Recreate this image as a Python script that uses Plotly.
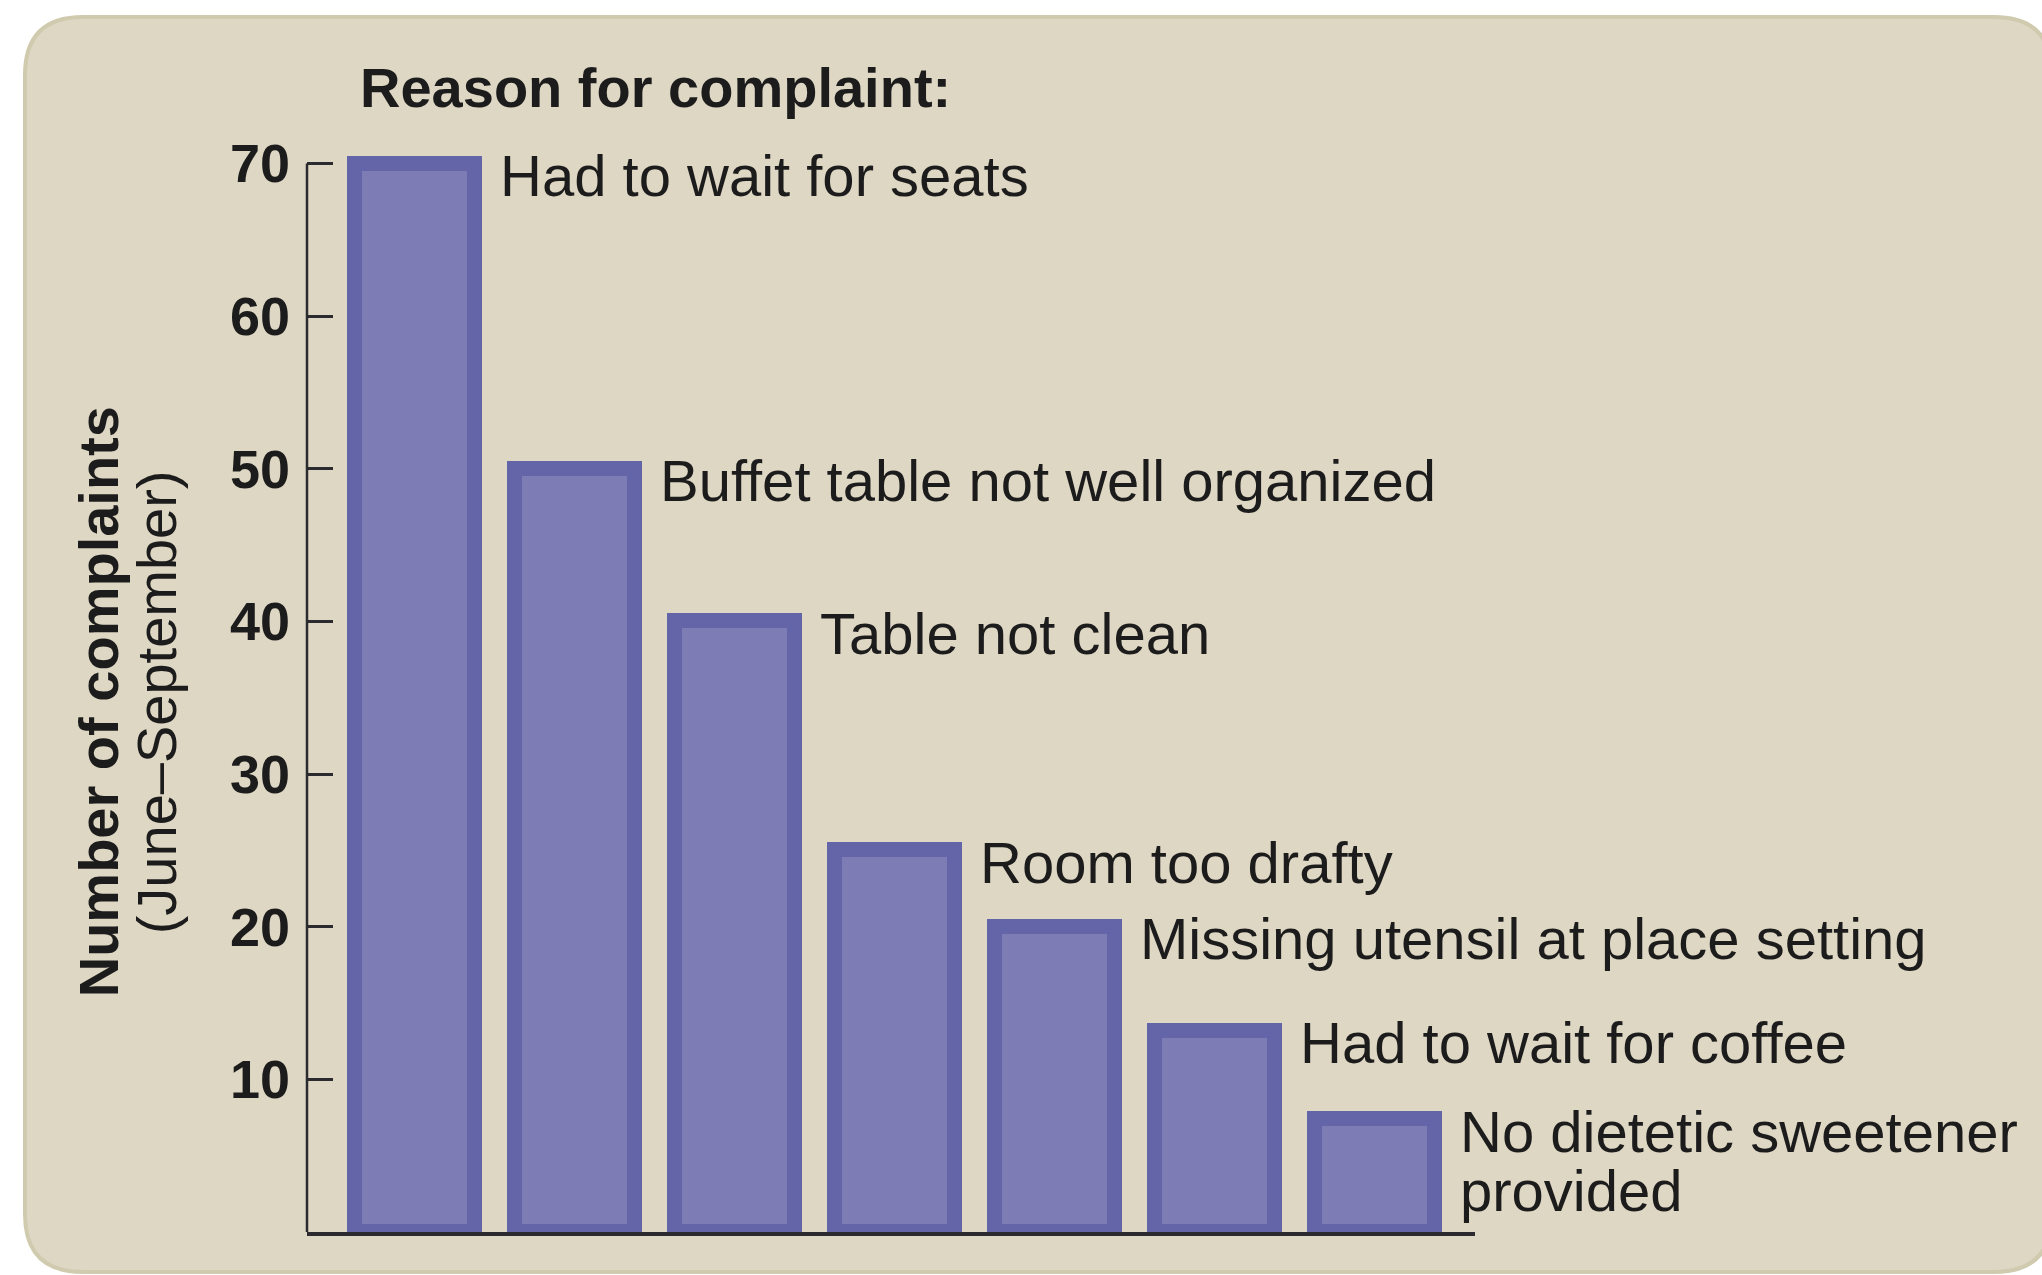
import plotly.graph_objects as go

# Complaint categories (Pareto order) and counts, June–September
reasons = [
    "Had to wait for seats",
    "Buffet table not well organized",
    "Table not clean",
    "Room too drafty",
    "Missing utensil at place setting",
    "Had to wait for coffee",
    "No dietetic sweetener<br>provided",
]
complaints = [70, 50, 40, 25, 20, 13.2, 7.4]
y_ticks = [10, 20, 30, 40, 50, 60, 70]

chart_title = "Reason for complaint:"
y_title_main = "Number of complaints"
y_title_sub = "(June–September)"

# Figure geometry (pixels)
W, H = 2042, 1275
M_L, M_R, M_T, M_B = 307, 567, 133, 43
PLOT_W = W - M_L - M_R
PLOT_H = H - M_T - M_B

FONT = "Liberation Sans, Arial, Helvetica, sans-serif"
TEXT = "#1d1c1c"
AXIS = "#2b2a2e"
PANEL = "#ded7c4"
PANEL_EDGE = "#d0caaf"
BAR_FILL = "#7e7cb5"
BAR_EDGE = "#6464a8"

BAR_W = 0.756      # bar width in category units
BAR_LINE = 15      # outline thickness in px
LABEL_SIZE = 58
LINE_GAP = 59      # spacing between wrapped label lines


def px_to_paper(px, py):
    return (px - M_L) / PLOT_W, (H - M_B - py) / PLOT_H


def rounded_rect(x0, y0, x1, y1, r):
    pts = []
    def p(x, y):
        a, b = px_to_paper(x, y)
        return f"{a:.5f},{b:.5f}"
    pts.append("M " + p(x0 + r, y0))
    pts.append("L " + p(x1 - r, y0))
    pts.append("Q " + p(x1, y0) + " " + p(x1, y0 + r))
    pts.append("L " + p(x1, y1 - r))
    pts.append("Q " + p(x1, y1) + " " + p(x1 - r, y1))
    pts.append("L " + p(x0 + r, y1))
    pts.append("Q " + p(x0, y1) + " " + p(x0, y1 - r))
    pts.append("L " + p(x0, y0 + r))
    pts.append("Q " + p(x0, y0) + " " + p(x0 + r, y0))
    return " ".join(pts) + " Z"


x_pos = list(range(len(reasons)))

fig = go.Figure(
    go.Bar(
        x=x_pos,
        y=complaints,
        width=BAR_W,
        marker=dict(color=BAR_FILL, line=dict(color=BAR_EDGE, width=BAR_LINE)),
        hoverinfo="skip",
    )
)

shapes = [
    # beige rounded card behind the chart
    dict(
        type="path",
        xref="paper",
        yref="paper",
        path=rounded_rect(25, 17, 2052, 1272, 58),
        fillcolor=PANEL,
        line=dict(color=PANEL_EDGE, width=4),
        layer="below",
    ),
    # vertical axis line, from 0 up to the top tick only
    dict(
        type="line",
        xref="paper",
        yref="y",
        x0=0,
        x1=0,
        y0=0,
        y1=max(y_ticks),
        line=dict(color=AXIS, width=2.5),
        layer="above",
    ),
]

annotations = []
# category labels to the right of each bar top
for i, (txt, val) in enumerate(zip(reasons, complaints)):
    for k, line in enumerate(txt.split("<br>")):
        annotations.append(
            dict(
                x=i + BAR_W / 2,
                y=val,
                xref="x",
                yref="y",
                text=line,
                showarrow=False,
                xanchor="left",
                yanchor="middle",
                xshift=BAR_LINE / 2 + 15,
                yshift=-12 - k * LINE_GAP,
                font=dict(family=FONT, size=LABEL_SIZE, color=TEXT),
            )
        )

annotations.append(
    dict(
        x=0, y=1, xref="paper", yref="paper",
        text=f"<b>{chart_title}</b>",
        showarrow=False, xanchor="left", yanchor="middle",
        xshift=51, yshift=46,
        font=dict(family=FONT, size=56, color=TEXT),
    )
)
annotations.append(
    dict(
        x=0, y=0.482, xref="paper", yref="paper",
        text=f"<b>{y_title_main}</b>",
        showarrow=False, textangle=-90, xanchor="center", yanchor="middle",
        xshift=-209,
        font=dict(family=FONT, size=56, color=TEXT),
    )
)
annotations.append(
    dict(
        x=0, y=0.482, xref="paper", yref="paper",
        text=y_title_sub,
        showarrow=False, textangle=-90, xanchor="center", yanchor="middle",
        xshift=-151,
        font=dict(family=FONT, size=56, color=TEXT),
    )
)

fig.update_layout(
    width=W,
    height=H,
    margin=dict(l=M_L, r=M_R, t=M_T, b=M_B, pad=0),
    paper_bgcolor="white",
    plot_bgcolor="rgba(0,0,0,0)",
    showlegend=False,
    shapes=shapes,
    annotations=annotations,
    bargap=0,
    xaxis=dict(
        range=[-0.675, -0.675 + PLOT_W / 160],
        showticklabels=False,
        ticks="",
        showgrid=False,
        zeroline=False,
        showline=True,
        linecolor=AXIS,
        linewidth=3.5,
        fixedrange=True,
    ),
    yaxis=dict(
        range=[0, PLOT_H / 15.264],
        tickvals=y_ticks,
        ticks="inside",
        ticklen=26,
        tickwidth=2.5,
        tickcolor=AXIS,
        ticklabelstandoff=16,
        tickfont=dict(family=FONT, size=54, color=TEXT, weight="bold"),
        showgrid=False,
        zeroline=False,
        showline=False,
        fixedrange=True,
    ),
)

fig.write_html("out.html")
